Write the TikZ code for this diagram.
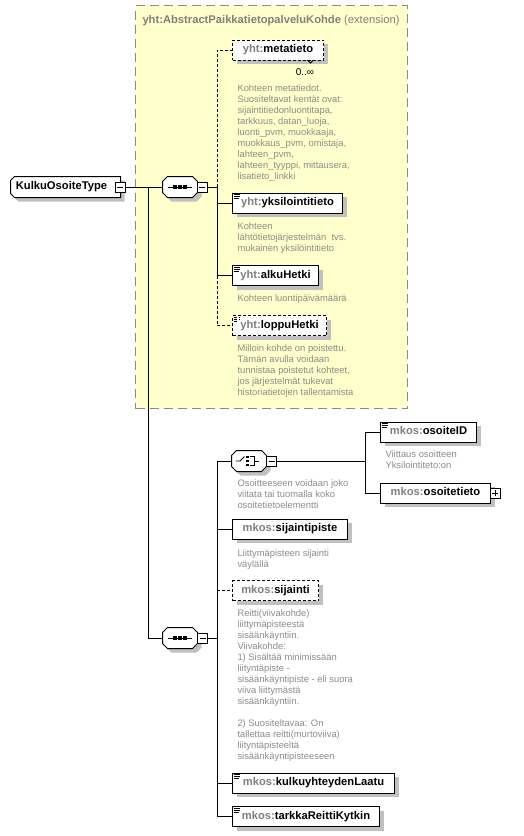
\documentclass[tikz,border=0pt]{standalone}
\usepackage{fontspec}
\setmainfont{Liberation Sans}
\usetikzlibrary{shadows}
\definecolor{yel}{HTML}{FFFFCC}
\definecolor{pfg}{HTML}{808080}
\definecolor{dg}{HTML}{8C8C8C}
\definecolor{shdc}{HTML}{C0C0C0}
\definecolor{bordg}{HTML}{8A8A8A}
\newcommand\pf[1]{\textcolor{pfg}{#1}}
\newcommand\lblf{\fontsize{11.2}{13}\selectfont\bfseries}
\newcommand\dscf{\fontsize{9.4}{11}\selectfont}
% octagon path round a node: #1 node, #2 left chamfer, #3 right chamfer, #4 dx, #5 dy (y down)
\newcommand\octpath[5]{([shift={({#4+#2},{#5})}]#1.north west) -- ([shift={({#4-#3},{#5})}]#1.north east) -- ([shift={({#4},{#5+#3})}]#1.north east) -- ([shift={({#4},{#5-#3})}]#1.south east) -- ([shift={({#4-#3},{#5})}]#1.south east) -- ([shift={({#4+#2},{#5})}]#1.south west) -- ([shift={({#4},{#5-#2})}]#1.south west) -- ([shift={({#4},{#5+#2})}]#1.north west) -- cycle}
\begin{document}
\begin{tikzpicture}[x=1pt,y=-1pt, line width=1pt,
  shd/.style={general shadow={fill=shdc, shadow xshift=4pt, shadow yshift=-4pt}},
  elem/.style={draw, fill=white, shd, minimum height=20pt, inner sep=0pt, font=\lblf, text height=8pt, text depth=2.5pt, anchor=west},
  opt/.style={elem, dash pattern=on 3pt off 2pt},
  dsh/.style={dash pattern=on 3pt off 2pt},
  desc/.style={font=\dscf, text=dg, align=left, anchor=north west, inner sep=0pt},
  comp/.style={draw=none, minimum width=34pt, minimum height=20pt, inner sep=0pt},
  pmbox/.style={draw, fill=white, minimum size=10pt, inner sep=0pt, line width=0.9pt,
    path picture={\draw[line width=0.9pt] ([xshift=2pt]path picture bounding box.west) -- ([xshift=-2pt]path picture bounding box.east);}},
  plbox/.style={pmbox, path picture={\draw[line width=0.9pt] ([xshift=2pt]path picture bounding box.west) -- ([xshift=-2pt]path picture bounding box.east) ([yshift=-2pt]path picture bounding box.north) -- ([yshift=2pt]path picture bounding box.south);}},
  ic/.style={path picture={\draw[line width=0.9pt]
     ([shift={(1.2pt,-1.6pt)}]path picture bounding box.north west) -- ++(6pt,0pt)
     ([shift={(1.2pt,-3.6pt)}]path picture bounding box.north west) -- ++(6pt,0pt)
     ([shift={(1.2pt,-5.6pt)}]path picture bounding box.north west) -- ++(5pt,0pt);}}
]
\useasboundingbox (0,0) rectangle (524,836);
\fill[white] (0,0) rectangle (524,836);

% extension box
\node[draw=bordg, fill=yel, dash pattern=on 9pt off 5pt, anchor=north west, minimum width=272pt, minimum height=403pt, inner sep=0pt] (ext) at (135,5) {};
\node[anchor=base west, inner sep=0pt, font=\lblf, text=pfg] (title) at (142,23) {yht:AbstractPaikkatietopalveluKohde \mdseries(extension)};

% root
\node[comp, minimum width=109pt] (kot) at (65.5,187) {};
\fill[shdc] \octpath{kot}{4}{0}{4}{4};
\draw[fill=white] \octpath{kot}{4}{0}{0}{0};
\node[font=\lblf, text height=8pt, text depth=2.5pt, inner sep=0pt] (kott) at ([xshift=-4pt]kot.center) {KulkuOsoiteType};
\node[pmbox] (kotm) at (120,187) {};

% upper sequence
\node[comp] (seq1) at (180,187) {};
\fill[shdc] \octpath{seq1}{5}{5}{4}{4};
\draw[fill=white] \octpath{seq1}{5}{5}{0}{0};
\begin{scope}[shift={(seq1.center)}]
  \draw[line width=0.9pt] (-12,0) -- (12,0);
  \foreach \d in {-5,0,5} \fill (\d-1.6,-1.6) rectangle (\d+1.6,1.6);
\end{scope}
\node[pmbox] (seq1m) at (202,187) {};
\coordinate (b0) at (148,187);
\coordinate (b1) at (217,187);

\node[opt, minimum width=91pt] (meta) at (232,50) {\pf{yht:}metatieto};
\draw[line width=0.8pt] (307.5,60) -- (310.5,63) -- (313.5,60);
\node[font=\fontsize{10}{12}\selectfont, inner sep=0pt] (metam) at (305,72) {0..∞};
\node[desc] (metad) at (237,84.3) {Kohteen metatiedot.\\Suositeltavat kentät ovat:\\sijaintitiedonluontitapa,\\tarkkuus, datan\_luoja,\\luonti\_pvm, muokkaaja,\\muokkaus\_pvm, omistaja,\\lahteen\_pvm,\\lahteen\_tyyppi, mittausera,\\lisatieto\_linkki};

\node[elem, ic, minimum width=110pt] (yks) at (232,203) {\pf{yht:}yksilointitieto};
\node[desc] (yksd) at (237,222.3) {Kohteen\\lähtötietojärjestelmän\ \ tvs.\\mukainen yksilöintitieto};

\node[elem, ic, minimum width=86pt] (alku) at (232,275.5) {\pf{yht:}alkuHetki};
\node[desc] (alkud) at (237,294.3) {Kohteen luontipäivämäärä};

\node[opt, ic, minimum width=94pt] (loppu) at (232,325.5) {\pf{yht:}loppuHetki};
\node[desc] (loppud) at (237,344.3) {Milloin kohde on poistettu.\\Tämän avulla voidaan\\tunnistaa poistetut kohteet,\\jos järjestelmät tukevat\\historiatietojen tallentamista};

% lower sequence
\node[comp] (seq2) at (180,638) {};
\fill[shdc] \octpath{seq2}{5}{5}{4}{4};
\draw[fill=white] \octpath{seq2}{5}{5}{0}{0};
\begin{scope}[shift={(seq2.center)}]
  \draw[line width=0.9pt] (-12,0) -- (12,0);
  \foreach \d in {-5,0,5} \fill (\d-1.6,-1.6) rectangle (\d+1.6,1.6);
\end{scope}
\node[pmbox] (seq2m) at (202.5,638) {};
\coordinate (b2) at (217,638);

% choice
\node[comp] (choice) at (249,461) {};
\fill[shdc] \octpath{choice}{5}{5}{4}{4};
\draw[fill=white] \octpath{choice}{5}{5}{0}{0};
\begin{scope}[shift={(choice.center)}]
  \draw[line width=0.9pt] (-13,0) -- (-9,0) -- (-4.5,-4.5);
  \fill (-3,-5.2) rectangle (-0.5,-3); \fill (-3,-1.2) rectangle (-0.5,1.2); \fill (-3,3) rectangle (-0.5,5.2);
  \draw[line width=0.9pt] (1,-4.5) -- (5,-4.5) -- (5,4.5) -- (1,4.5) (5,0) -- (9.5,0);
\end{scope}
\node[pmbox] (choicem) at (271.5,461) {};
\coordinate (b3) at (365,461);
\node[desc] (choiced) at (237,479) {Osoitteeseen voidaan joko\\viitata tai tuomalla koko\\osoitetietoelementti};

\node[elem, ic, minimum width=96pt] (oid) at (380,432) {\pf{mkos:}osoiteID};
\node[desc] (oidd) at (385,450) {Viittaus osoitteen\\Yksilointiteto:on};
\node[elem, minimum width=110pt] (oti) at (380,493) {\pf{mkos:}osoitetieto};
\node[plbox] (otip) at (495,493) {};

\node[elem, minimum width=115pt] (sp) at (232,529) {\pf{mkos:}sijaintipiste};
\node[desc] (spd) at (237,549) {Liittymäpisteen sijainti\\väylällä};

\node[opt, minimum width=86pt] (sij) at (232,590.5) {\pf{mkos:}sijainti};
\node[desc] (sijd) at (237,609.3) {Reitti(viivakohde)\\liittymäpisteestä\\sisäänkäyntiin.\\Viivakohde:\\1) Sisältää minimissään\\liityntäpiste -\\sisäänkäyntipiste - eli suora\\viiva liittymästä\\sisäänkäyntiin.\\[11pt]2) Suositeltavaa: On\\tallettaa reitti(murtoviiva)\\liityntäpisteeltä\\sisäänkäyntipisteeseen};

\node[elem, ic, minimum width=162pt] (kulku) at (232,783) {\pf{mkos:}kulkuyhteydenLaatu};
\node[elem, ic, minimum width=147pt] (tark) at (232,816.5) {\pf{mkos:}tarkkaReittiKytkin};

% connectors
\draw (kotm.east) -- (seq1.west);
\draw (seq1m.east) -- (b1);
\draw (b0) |- (seq2.west);
\draw[dsh] (b1) |- (meta.west);
\draw (b1) |- (yks.west);
\draw (b1) |- (alku.west);
\draw[dsh] (b1 |- alku.west) |- (loppu.west);

\draw (seq2m.east) -- (b2);
\draw (b2) |- (choice.west);
\draw (b2) |- (tark.west);
\draw (b2 |- sp.west) -- (sp.west);
\draw[dsh] (b2 |- sij.west) -- (sij.west);
\draw (b2 |- kulku.west) -- (kulku.west);

\draw (choicem.east) -- (b3);
\draw (b3) |- (oid.west);
\draw (b3) |- (oti.west);
\end{tikzpicture}
\end{document}
